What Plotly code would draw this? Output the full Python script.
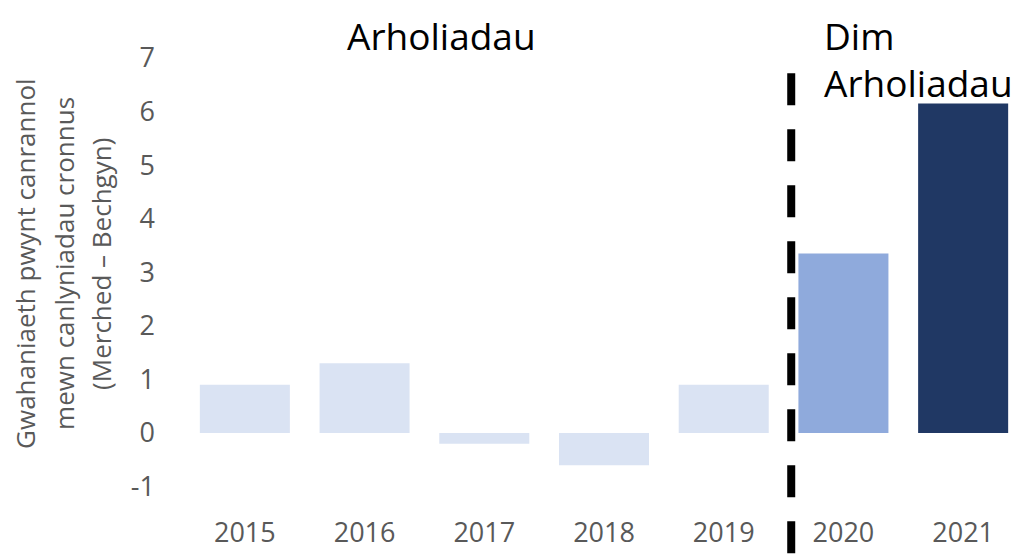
import plotly.graph_objects as go

years = ["2015", "2016", "2017", "2018", "2019", "2020", "2021"]
values = [0.9, 1.3, -0.2, -0.6, 0.9, 3.35, 6.15]
colors = ["#DAE3F3", "#DAE3F3", "#DAE3F3", "#DAE3F3", "#DAE3F3", "#8FAADC", "#203864"]
y_ticks = [-1, 0, 1, 2, 3, 4, 5, 6, 7]
y_ticktext = ["-1", "0", "1", "2", "3", "4", "5", "6", "7"]
title_lines = ["Gwahaniaeth pwynt canrannol", "mewn canlyniadau cronnus", "(Merched – Bechgyn)"]

W, H = 1032, 554
OFFX, OFFY = 8, 3  # observed page offsets
# plot area in screen pixels
SL, SR, ST, SB = 185, 1023, 53.4, 513.7
L, R, T, B = SL - OFFX, SR - OFFX, ST - OFFY, SB - OFFY
FONT = "Open Sans, sans-serif"


def px(x):
    return (x - OFFX - L) / (R - L)


def py(y):
    return (B - (y - OFFY)) / (B - T)


fig = go.Figure()
fig.add_trace(go.Bar(x=years, y=values, marker=dict(color=colors, line=dict(width=0))))

annotations = []
for line, xp in zip(title_lines, [25, 64, 101]):
    annotations.append(dict(
        text=line, textangle=-90, x=px(xp), y=py(264), xref="paper", yref="paper",
        showarrow=False, xanchor="center", yanchor="middle",
        font=dict(family=FONT, size=26, color="#595959")))

top_y = py(OFFY)  # very top of the figure
annotations.append(dict(text="Arholiadau", x=px(441), y=top_y, xref="paper", yref="paper",
                        showarrow=False, xanchor="center", yanchor="top", borderpad=0,
                        font=dict(family=FONT, size=37, color="#000000")))
annotations.append(dict(text="Dim", x=px(823), y=top_y, xref="paper", yref="paper",
                        showarrow=False, xanchor="left", yanchor="top", borderpad=0,
                        font=dict(family=FONT, size=37, color="#000000")))
annotations.append(dict(text="Arholiadau", x=px(823), y=py(78), xref="paper", yref="paper",
                        showarrow=False, xanchor="left", yanchor="middle", borderpad=0,
                        font=dict(family=FONT, size=37, color="#000000")))

fig.add_shape(type="line", xref="x", yref="paper", x0=4.564, x1=4.564,
              y0=py(69), y1=py(566), line=dict(color="black", width=8, dash="32px,24px"))

fig.update_layout(
    width=W, height=H,
    margin=dict(l=L, r=W - R, t=T, b=H - B, pad=0),
    paper_bgcolor="white", plot_bgcolor="white",
    bargap=0.248, showlegend=False,
    annotations=annotations,
    font=dict(family=FONT, color="#595959", size=27),
    xaxis=dict(showgrid=False, zeroline=False, showline=False, ticks="",
               ticklabelstandoff=6, tickfont=dict(size=27, color="#595959")),
    yaxis=dict(range=[-1.4, 7], tickvals=y_ticks, ticktext=y_ticktext, showgrid=False,
               zeroline=False, showline=False, ticks="", ticklabelstandoff=29,
               tickfont=dict(size=27, color="#595959")),
)

fig.write_html("out.html")
